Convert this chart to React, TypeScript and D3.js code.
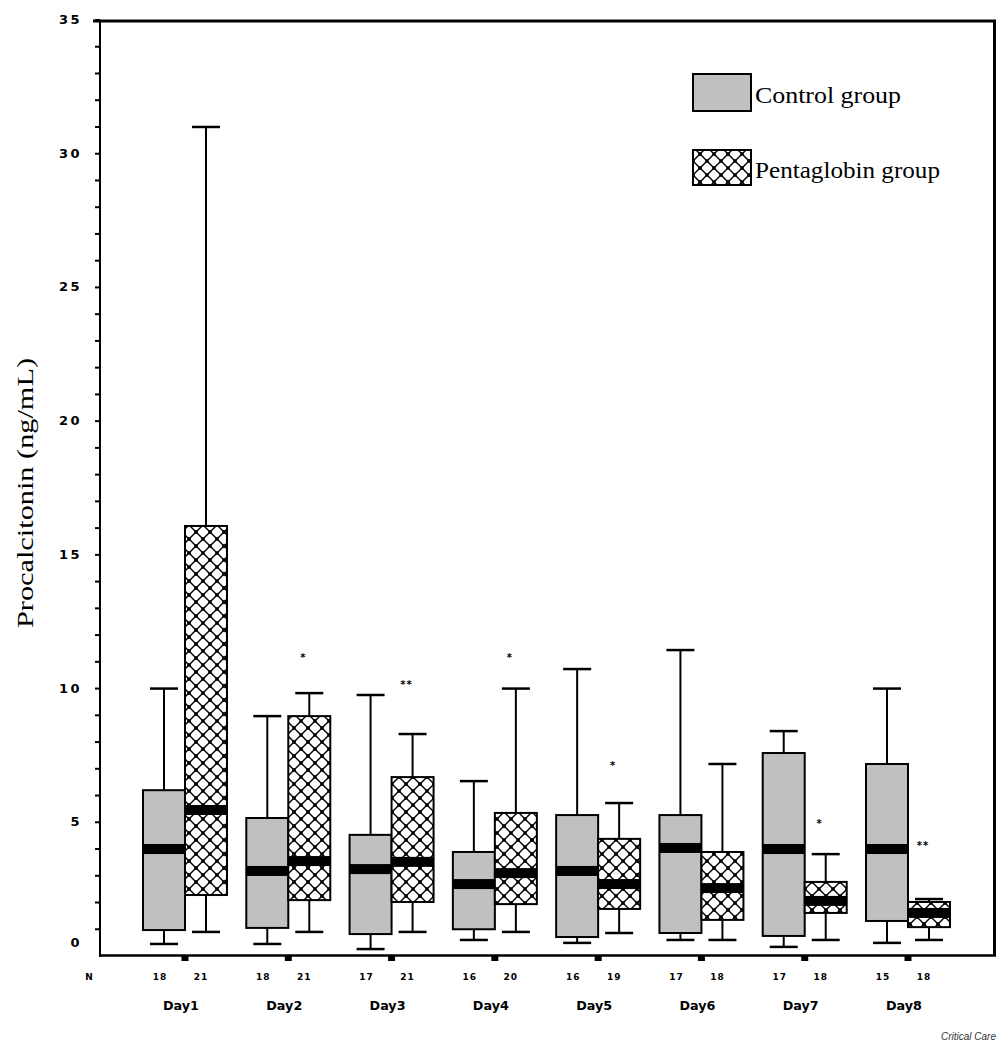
import React from "react";
import * as d3 from "d3";

const days = ["Day1", "Day2", "Day3", "Day4", "Day5", "Day6", "Day7", "Day8"];
const controlN = [18, 18, 17, 16, 16, 17, 17, 15];
const pentaN = [21, 21, 21, 20, 19, 18, 18, 18];

const controlLow = [0.45, 0.45, 0.26, 0.6, 0.49, 0.6, 0.34, 0.49];
const controlQ1 = [0.97, 1.05, 0.82, 1.0, 0.71, 0.86, 0.75, 1.31];
const controlMed = [4.0, 3.18, 3.25, 2.69, 3.18, 4.04, 4.0, 4.0];
const controlQ3 = [6.2, 5.16, 4.53, 3.89, 5.27, 5.27, 7.59, 7.18];
const controlHigh = [10.0, 8.97, 9.76, 6.54, 10.73, 11.44, 8.41, 10.0];

const pentaLow = [0.9, 0.9, 0.9, 0.9, 0.86, 0.6, 0.6, 0.6];
const pentaQ1 = [2.28, 2.09, 2.02, 1.94, 1.76, 1.35, 1.61, 1.08];
const pentaMed = [5.46, 3.55, 3.52, 3.1, 2.69, 2.54, 2.06, 1.61];
const pentaQ3 = [16.08, 8.97, 6.69, 5.35, 4.38, 3.89, 2.77, 2.02];
const pentaHigh = [31.0, 9.83, 8.3, 10.0, 5.72, 7.18, 3.81, 2.13];

const sigMarks = ["", "*", "**", "*", "*", "", "*", "**"];
const sigLevel = [NaN, 11.26, 10.25, 11.26, 7.22, NaN, 5.05, 4.23];

const yMajorTicks = [0, 5, 10, 15, 20, 25, 30, 35];
const yMinorTicks = d3.range(1, 36, 1);

const W = 1004;
const H = 1042;

export default function App() {
  const y = d3.scaleLinear().domain([0, 35]).range([956, 20]);
  const x = d3.scalePoint<string>().domain(days).range([185, 908]);
  const bw = 42;
  const capW = 28;
  const medH = 10;
  const font = "'DejaVu Sans', sans-serif";

  const renderBox = (
    cx: number,
    low: number,
    q1: number,
    med: number,
    q3: number,
    high: number,
    fill: string,
    key: string
  ) => {
    const x0 = cx - bw / 2;
    return (
      <g key={key}>
        <line x1={cx} x2={cx} y1={y(high)} y2={y(q3)} stroke="#000" strokeWidth={2} />
        <line x1={cx - capW / 2} x2={cx + capW / 2} y1={y(high)} y2={y(high)} stroke="#000" strokeWidth={2.5} />
        <line x1={cx} x2={cx} y1={y(q1)} y2={y(low)} stroke="#000" strokeWidth={2} />
        <line x1={cx - capW / 2} x2={cx + capW / 2} y1={y(low)} y2={y(low)} stroke="#000" strokeWidth={2.5} />
        <rect x={x0} y={y(q3)} width={bw} height={y(q1) - y(q3)} fill={fill} stroke="#000" strokeWidth={2} />
        <rect x={x0} y={y(med) - medH / 2} width={bw} height={medH} fill="#000" />
      </g>
    );
  };

  return (
    <svg
      width={W}
      height={H}
      style={{ position: "absolute", left: 0, top: 0, background: "#fff" }}
    >
      <defs>
        <pattern id="xhatch" width={14} height={14} patternUnits="userSpaceOnUse">
          <rect width={14} height={14} fill="#fff" />
          <line x1={0} y1={0} x2={14} y2={14} stroke="#000" strokeWidth={1.4} />
          <line x1={14} y1={0} x2={0} y2={14} stroke="#000" strokeWidth={1.4} />
          <rect x={5.25} y={5.25} width={3.5} height={3.5} fill="#000" />
          <rect x={-1.75} y={-1.75} width={3.5} height={3.5} fill="#000" />
          <rect x={12.25} y={-1.75} width={3.5} height={3.5} fill="#000" />
          <rect x={-1.75} y={12.25} width={3.5} height={3.5} fill="#000" />
          <rect x={12.25} y={12.25} width={3.5} height={3.5} fill="#000" />
        </pattern>
      </defs>
      <rect width={W} height={H} fill="#fff" />

      {/* frame */}
      <line x1={93} x2={996} y1={21} y2={21} stroke="#000" strokeWidth={3} />
      <line x1={994.5} x2={994.5} y1={20} y2={956} stroke="#000" strokeWidth={3} />
      <line x1={100} x2={100} y1={20} y2={957} stroke="#000" strokeWidth={2} />
      <line x1={99} x2={996} y1={955.5} y2={955.5} stroke="#000" strokeWidth={2.5} />

      {/* y ticks */}
      {yMinorTicks.map((t) => (
        <line key={"mt" + t} x1={95} x2={100} y1={y(t)} y2={y(t)} stroke="#000" strokeWidth={2} />
      ))}
      {yMajorTicks.map((t) => (
        <text
          key={"yl" + t}
          x={82}
          y={Math.min(y(t) + 4, 947)}
          textAnchor="end"
          fontFamily={font}
          fontWeight="bold"
          fontSize={13}
          letterSpacing={2.5}
          fill="#000"
        >
          {t}
        </text>
      ))}

      {/* y title */}
      <text
        transform="translate(33,493) rotate(-90)"
        textAnchor="middle"
        fontFamily="'Liberation Serif', 'Times New Roman', serif"
        fontSize={24}
        textLength={270}
        lengthAdjust="spacingAndGlyphs"
        fill="#000"
      >
        Procalcitonin (ng/mL)
      </text>

      {/* x axis ticks & labels */}
      <text x={89} y={980} textAnchor="middle" fontFamily={font} fontWeight="bold" fontSize={9} fill="#000">
        N
      </text>
      {days.map((d, i) => {
        const cx = x(d) as number;
        return (
          <g key={"xa" + d}>
            <rect x={cx - 3.5} y={956} width={7} height={5} fill="#000" />
            <text x={cx - 25} y={980} textAnchor="middle" fontFamily={font} fontWeight="bold" fontSize={9} letterSpacing={1} fill="#000">
              {controlN[i]}
            </text>
            <text x={cx + 16} y={980} textAnchor="middle" fontFamily={font} fontWeight="bold" fontSize={9} letterSpacing={1} fill="#000">
              {pentaN[i]}
            </text>
            <text
              x={cx - 4}
              y={1010}
              textAnchor="middle"
              fontFamily={font}
              fontWeight="bold"
              fontSize={13}
              textLength={36}
              lengthAdjust="spacingAndGlyphs"
              fill="#000"
            >
              {d}
            </text>
          </g>
        );
      })}

      {/* boxes */}
      {days.map((d, i) => {
        const c = x(d) as number;
        return (
          <g key={"bx" + d}>
            {renderBox(c - bw / 2, controlLow[i], controlQ1[i], controlMed[i], controlQ3[i], controlHigh[i], "#c0c0c0", "c" + i)}
            {renderBox(c + bw / 2, pentaLow[i], pentaQ1[i], pentaMed[i], pentaQ3[i], pentaHigh[i], "url(#xhatch)", "p" + i)}
            {sigMarks[i] ? (
              <text
                x={c + bw / 2 - 6}
                y={y(sigLevel[i]) + 6}
                textAnchor="middle"
                fontFamily={font}
                fontWeight="bold"
                fontSize={10}
                letterSpacing={1}
                fill="#000"
              >
                {sigMarks[i]}
              </text>
            ) : null}
          </g>
        );
      })}

      {/* legend */}
      <rect x={693} y={74} width={58} height={37} fill="#c0c0c0" stroke="#000" strokeWidth={2} />
      <text
        x={755}
        y={103}
        fontFamily="'Liberation Serif', 'Times New Roman', serif"
        fontSize={24}
        textLength={146}
        lengthAdjust="spacingAndGlyphs"
        fill="#000"
      >
        Control group
      </text>
      <rect x={693} y={150} width={58} height={35} fill="url(#xhatch)" stroke="#000" strokeWidth={2} />
      <text
        x={755}
        y={178}
        fontFamily="'Liberation Serif', 'Times New Roman', serif"
        fontSize={24}
        textLength={185}
        lengthAdjust="spacingAndGlyphs"
        fill="#000"
      >
        Pentaglobin group
      </text>

      {/* source */}
      <text
        x={996}
        y={1040}
        textAnchor="end"
        fontFamily="'Liberation Sans', Arial, sans-serif"
        fontStyle="italic"
        fontSize={10}
        fill="#333"
      >
        Critical Care
      </text>
    </svg>
  );
}
